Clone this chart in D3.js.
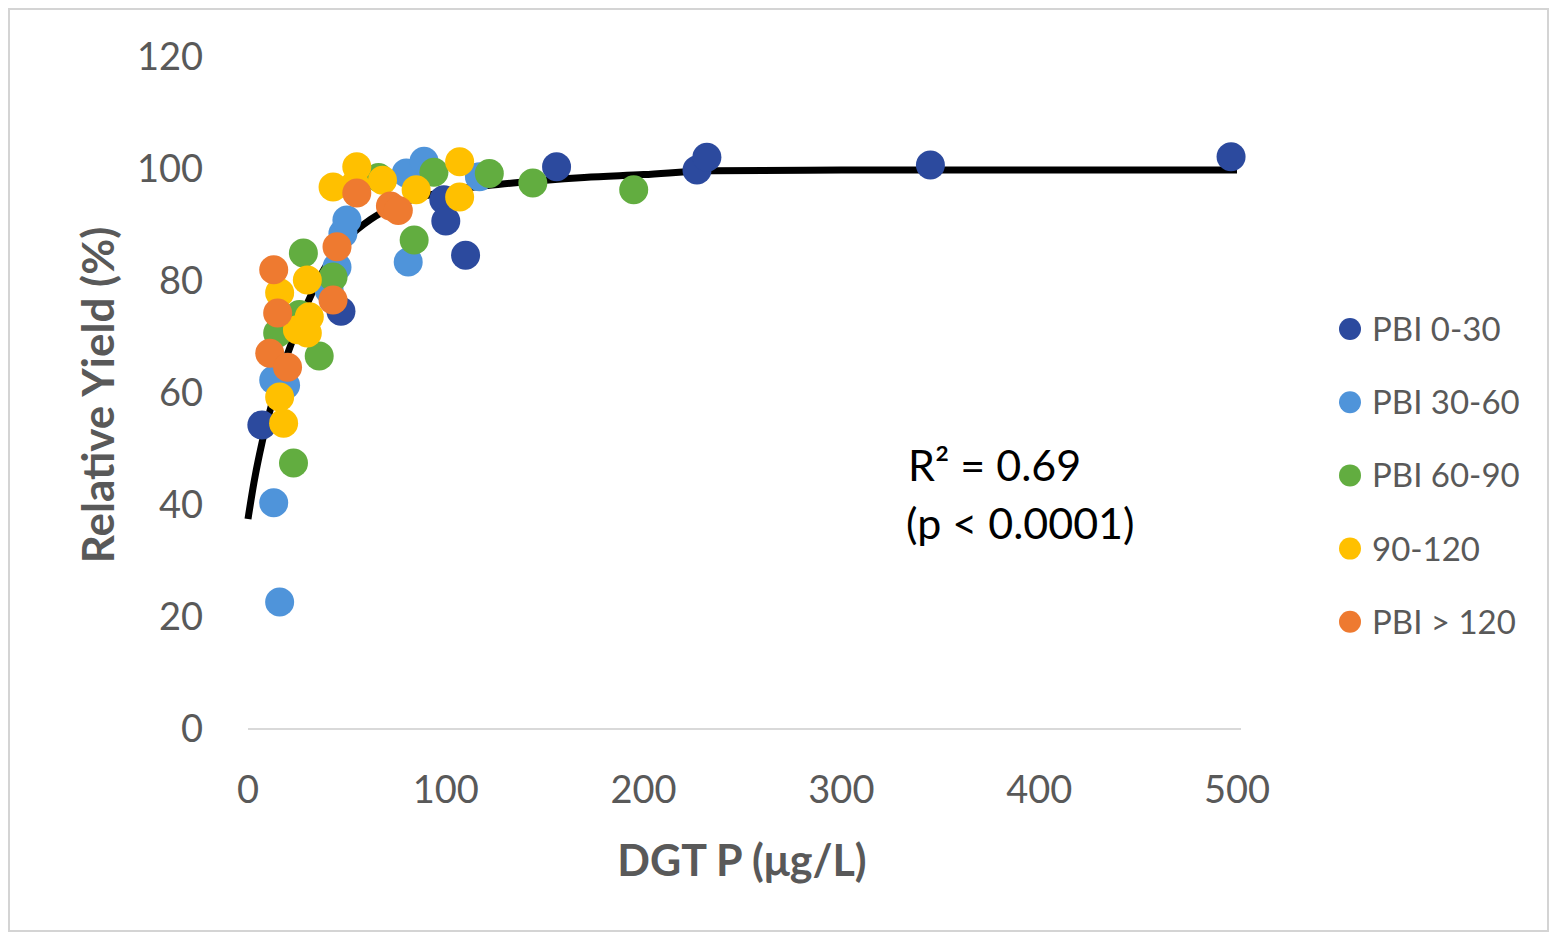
<!DOCTYPE html>
<html>
<head>
<meta charset="utf-8">
<script src="https://cdn.jsdelivr.net/npm/d3@7"></script>
<style>
  body { margin: 0; background: #fff; }
  text { font-family: Lato, "Open Sans", sans-serif; }
</style>
</head>
<body>
<div id="chart"></div>
<script>
// series names and colours
var series_names = ["PBI 0-30", "PBI 30-60", "PBI 60-90", "90-120", "PBI > 120"];
var series_colors = ["#2c4a9e", "#4f94da", "#62ad40", "#ffc000", "#ee7a30"];

// [DGT P, relative yield]
var pbi_0_30 = [[7, 54.3], [47, 74.6], [99, 94.5], [100, 90.7], [110, 84.6], [156, 100.4],
  [227, 99.8], [232, 102.1], [345, 100.7], [497, 102.2]];
var pbi_30_60 = [[16, 22.7], [13, 40.4], [13, 62.3], [19, 61.4], [45, 82.5], [41, 78.4],
  [48, 88.5], [50, 90.9], [80, 99.3], [81, 83.4], [89, 101.4], [117, 98.6]];
var pbi_60_90 = [[23, 47.5], [36, 66.6], [15, 70.7], [26, 74], [28, 85], [43, 80.7],
  [66, 98.5], [84, 87.3], [94, 99.4], [122, 99.2], [144, 97.5], [195, 96.3]];
var pbi_90_120 = [[16, 59.3], [18, 54.6], [25, 71.3], [30, 70.7], [31, 73.6], [16, 77.9],
  [30, 80.2], [43, 96.8], [54, 97.2], [55, 100.4], [68, 98], [85, 96.3], [107, 101.3], [107, 95]];
var pbi_120 = [[11, 67.1], [20, 64.6], [15, 74.3], [13, 82], [43, 76.6], [45, 86.1],
  [55, 95.7], [72, 93.4], [76, 92.6]];
var all_series = [pbi_0_30, pbi_30_60, pbi_60_90, pbi_90_120, pbi_120];

// fitted curve
var fit_curve = [[0, 37.5], [3, 44], [7, 51], [12, 58], [20, 67], [30, 76], [40, 83], [50, 87.5],
  [62, 91], [75, 93.5], [100, 96], [134, 97.5], [170, 98.5], [200, 99], [235, 99.7],
  [300, 99.8], [400, 99.8], [500, 99.8]];

var x_ticks = [0, 100, 200, 300, 400, 500];
var y_ticks = [0, 20, 40, 60, 80, 100, 120];

var width = 1552, height = 939;
var svg = d3.select("#chart").append("svg")
  .attr("width", width)
  .attr("height", height);

// outer frame
svg.append("rect")
  .attr("x", 9).attr("y", 9)
  .attr("width", 1539).attr("height", 922)
  .attr("fill", "none")
  .attr("stroke", "#d4d4d4")
  .attr("stroke-width", 2);

var x = d3.scaleLinear().domain([0, 500]).range([248, 1237]);
var y = d3.scaleLinear().domain([0, 120]).range([729, 57]);

// x axis line
svg.append("line")
  .attr("x1", x(0)).attr("x2", x(500) + 4)
  .attr("y1", y(0)).attr("y2", y(0))
  .attr("stroke", "#d9d9d9")
  .attr("stroke-width", 2);

// tick labels
svg.selectAll(".xtick")
  .data(x_ticks)
  .enter()
  .append("text")
  .attr("x", function(d){ return x(d); })
  .attr("y", 803)
  .attr("text-anchor", "middle")
  .attr("fill", "#595959")
  .style("font-size", "38px")
  .text(function(d){ return d; });

svg.selectAll(".ytick")
  .data(y_ticks)
  .enter()
  .append("text")
  .attr("x", 203)
  .attr("y", function(d){ return y(d) + 13; })
  .attr("text-anchor", "end")
  .attr("fill", "#595959")
  .style("font-size", "38px")
  .text(function(d){ return d; });

// axis titles
svg.append("text")
  .attr("x", 742)
  .attr("y", 876)
  .attr("text-anchor", "middle")
  .attr("fill", "#595959")
  .style("font-size", "43px")
  .style("font-weight", "bold")
  .text("DGT P (\u03bcg/L)");

svg.append("text")
  .attr("transform", "translate(114, 395) rotate(-90)")
  .attr("text-anchor", "middle")
  .attr("fill", "#595959")
  .style("font-size", "44px")
  .style("font-weight", "bold")
  .text("Relative Yield (%)");

// fitted curve
var line = d3.line()
  .x(function(d){ return x(d[0]); })
  .y(function(d){ return y(d[1]); })
  .curve(d3.curveMonotoneX);

svg.append("path")
  .datum(fit_curve)
  .attr("d", line)
  .attr("fill", "none")
  .attr("stroke", "#000")
  .attr("stroke-width", 7);

// points, one group per series
all_series.forEach(function(pts, i){
  svg.append("g")
    .selectAll("circle")
    .data(pts)
    .enter()
    .append("circle")
    .attr("cx", function(d){ return x(d[0]); })
    .attr("cy", function(d){ return y(d[1]); })
    .attr("r", 14.5)
    .attr("fill", series_colors[i]);
});

// R2 annotation
svg.append("text")
  .attr("x", 908).attr("y", 481)
  .attr("fill", "#000")
  .style("font-size", "43px")
  .text("R\u00b2 = 0.69");
svg.append("text")
  .attr("x", 906).attr("y", 539)
  .attr("fill", "#000")
  .style("font-size", "43px")
  .text("(p < 0.0001)");

// legend
var legend = svg.append("g");
var leg = legend.selectAll("g")
  .data(series_names)
  .enter()
  .append("g")
  .attr("transform", function(d, i){ return "translate(1350," + (329 + i * 73.2) + ")"; });

leg.append("circle")
  .attr("r", 11)
  .attr("fill", function(d, i){ return series_colors[i]; });

leg.append("text")
  .attr("x", 22)
  .attr("y", 12)
  .attr("fill", "#595959")
  .style("font-size", "33px")
  .text(function(d){ return d; });
</script>
</body>
</html>
